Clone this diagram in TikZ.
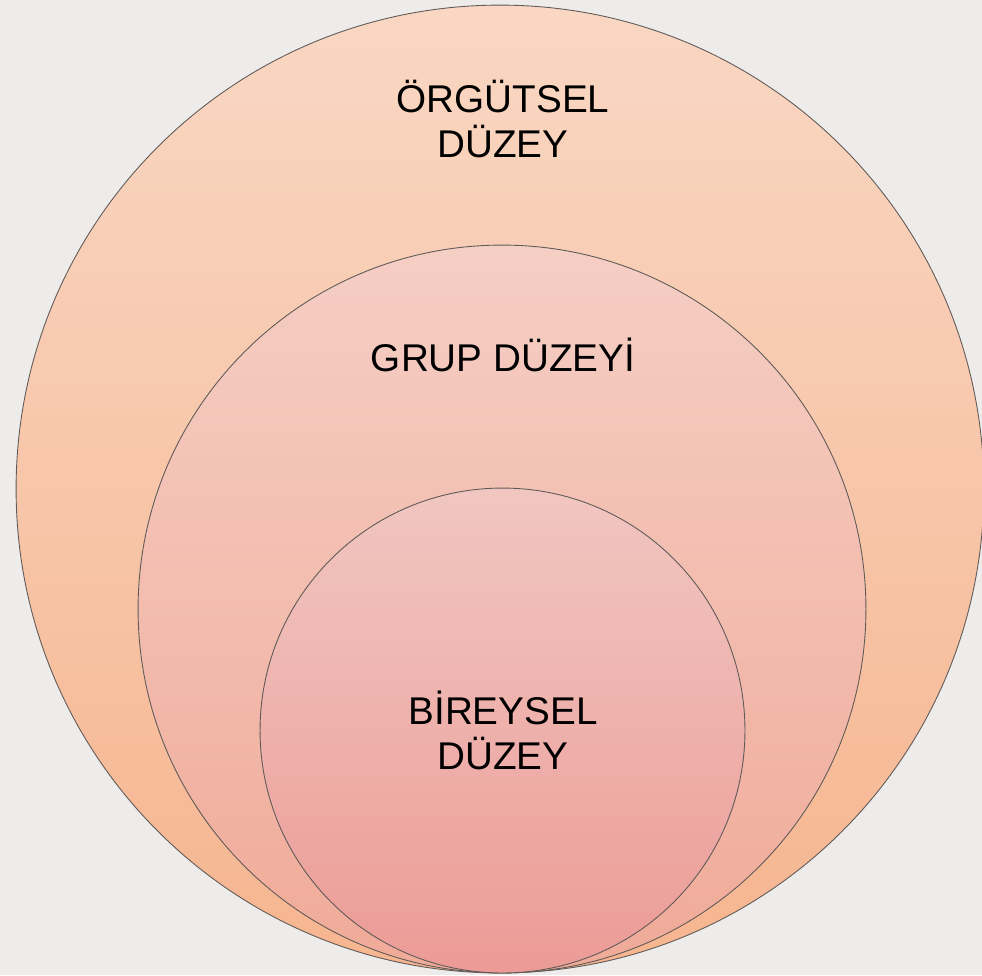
\documentclass[tikz,border=0pt]{standalone}
\usepackage{fontspec}
\setmainfont{Liberation Sans}
\definecolor{bg-color}{RGB}{238, 236, 234}
\definecolor{org-top}{RGB}{249, 215, 195}
\definecolor{org-bottom}{RGB}{246, 181, 143}
\definecolor{grp-top}{RGB}{245, 206, 196}
\definecolor{grp-bottom}{RGB}{240, 170, 152}
\definecolor{ind-top}{RGB}{241, 198, 193}
\definecolor{ind-bottom}{RGB}{236, 155, 150}
\definecolor{edge-color}{RGB}{95, 90, 88}

\begin{document}
\begin{tikzpicture}[x=0.02cm, y=-0.02cm,
  level/.style={circle, draw=edge-color, line width=0.5pt, inner sep=0pt},
  level_text/.style={align=center, font=\fontsize{22}{25.5}\selectfont}]
\clip (0,0) rectangle (982,975);
\fill[bg-color] (0,0) rectangle (982,975);

\node[level, minimum size=19.36cm, top color=org-top, bottom color=org-bottom] (org_circle) at (500,489) {};
\node[level, minimum size=14.56cm, top color=grp-top, bottom color=grp-bottom] (grp_circle) at (502,609) {};
\node[level, minimum size=9.7cm, top color=ind-top, bottom color=ind-bottom] (ind_circle) at (502.5,730.5) {};

\node[level_text] (org_label) at (503,119) {ÖRGÜTSEL\\DÜZEY};
\node[level_text] (grp_label) at (503,355) {GRUP DÜZEYİ};
\node[level_text] (ind_label) at (503,730) {BİREYSEL\\DÜZEY};
\end{tikzpicture}
\end{document}
